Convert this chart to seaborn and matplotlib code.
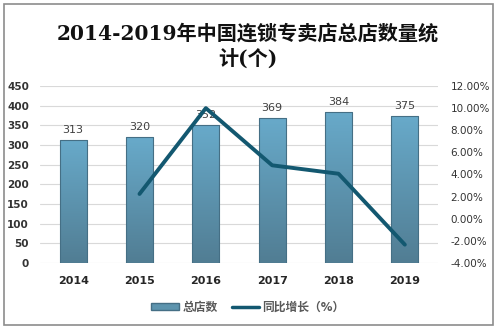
import numpy as np
import pandas as pd
import matplotlib
matplotlib.use("Agg")
import matplotlib.pyplot as plt
from matplotlib.colors import LinearSegmentedColormap
from matplotlib.patches import Rectangle
from matplotlib.lines import Line2D
import seaborn as sns

years = ["2014", "2015", "2016", "2017", "2018", "2019"]
stores = [313, 320, 352, 369, 384, 375]
growth_years = ["2015", "2016", "2017", "2018", "2019"]
growth = [2.24, 10.00, 4.83, 4.07, -2.34]
left_ticks = [0, 50, 100, 150, 200, 250, 300, 350, 400, 450]
right_ticks = [-4, -2, 0, 2, 4, 6, 8, 10, 12]
title = "2014-2019年中国连锁专卖店总店数量统\n计(个)"
legend_labels = ["总店数", "同比增长（%）"]

sns.set_theme(style="white")
plt.rcParams['font.family'] = ['DejaVu Sans', 'Noto Sans CJK SC']

W, H = 496, 330
fig = plt.figure(figsize=(W / 100, H / 100), dpi=100)
fig.patch.set_facecolor("white")
ax = fig.add_axes([40 / W, 1 - 263 / H, 398 / W, 177 / H])

df = pd.DataFrame({"year": years, "stores": stores})
sns.barplot(data=df, x="year", y="stores", ax=ax, width=0.41,
            color="#5d94ae", edgecolor="#456f85", linewidth=0.8, zorder=3)

ax.set_ylim(0, 450)
ax.set_xlim(-0.5, len(years) - 0.5)
ax.set_yticks(left_ticks)
ax.yaxis.grid(True, color="#d9d9d9", linewidth=0.8, zorder=0)
ax.set_axisbelow(True)
for s in ax.spines.values():
    s.set_visible(False)
ax.set_xlabel("")
ax.set_ylabel("")
ax.tick_params(axis="both", length=0)
ax.tick_params(axis="y", pad=8, labelsize=7.5, labelcolor="#333333")
ax.tick_params(axis="x", pad=9, labelsize=8, labelcolor="#262626")
for t in ax.get_xticklabels():
    t.set_fontweight("bold")
for t in ax.get_yticklabels():
    t.set_fontweight("bold")

cmap = LinearSegmentedColormap.from_list("g", ["#517d93", "#68aaca"])
grad = np.linspace(0, 1, 256).reshape(-1, 1)
for p in list(ax.patches):
    x0, y0 = p.get_x(), p.get_y()
    w, h = p.get_width(), p.get_height()
    im = ax.imshow(grad, extent=[x0, x0 + w, y0, y0 + h], origin="lower",
                   aspect="auto", cmap=cmap, zorder=2.5, interpolation="bilinear")
    im.set_clip_path(p)
    p.set_facecolor("none")
    ax.text(x0 + w / 2, y0 + h + 12, f"{int(h)}", ha="center", va="bottom",
            fontsize=8, color="#404040")
ax.set_ylim(0, 450)
ax.set_xlim(-0.5, len(years) - 0.5)

ax2 = ax.twinx()
gdf = pd.DataFrame({"pos": [years.index(y) for y in growth_years], "growth": growth})
sns.lineplot(data=gdf, x="pos", y="growth", ax=ax2, color="#135870",
             linewidth=2.8, zorder=5)
ax2.set_ylim(-4, 12)
ax2.set_yticks(right_ticks)
ax2.set_yticklabels([f"{v:.2f}%" for v in right_ticks])
ax2.tick_params(axis="y", length=0, pad=9, labelsize=7.5, labelcolor="#333333")
for s in ax2.spines.values():
    s.set_visible(False)
ax2.set_ylabel("")
ax2.set_xlim(-0.5, len(years) - 0.5)

fig.text(0.5, 1 - 46 / H, title, ha="center", va="center", fontsize=14.5,
         fontweight="bold", linespacing=1.35, color="#111111",
         family=['DejaVu Serif', 'Noto Sans CJK SC'])

handles = [Rectangle((0, 0), 1, 1, facecolor="#5d94ae", edgecolor="#456f85"),
           Line2D([0], [0], color="#135870", linewidth=2.5)]
fig.legend(handles, legend_labels, loc="center", bbox_to_anchor=(0.5, 1 - 307 / H),
           ncol=2, frameon=False, labelcolor="#595959",
           handlelength=2.3, handleheight=0.6, columnspacing=1.2, handletextpad=0.3,
           prop={'weight': 'bold', 'size': 8.5})

fig.add_artist(Rectangle((4 / W, 5 / H), 489 / W, 321 / H, transform=fig.transFigure,
                         fill=False, edgecolor="#8c8c8c", linewidth=1.2))

fig.savefig("out.png", dpi=100)
